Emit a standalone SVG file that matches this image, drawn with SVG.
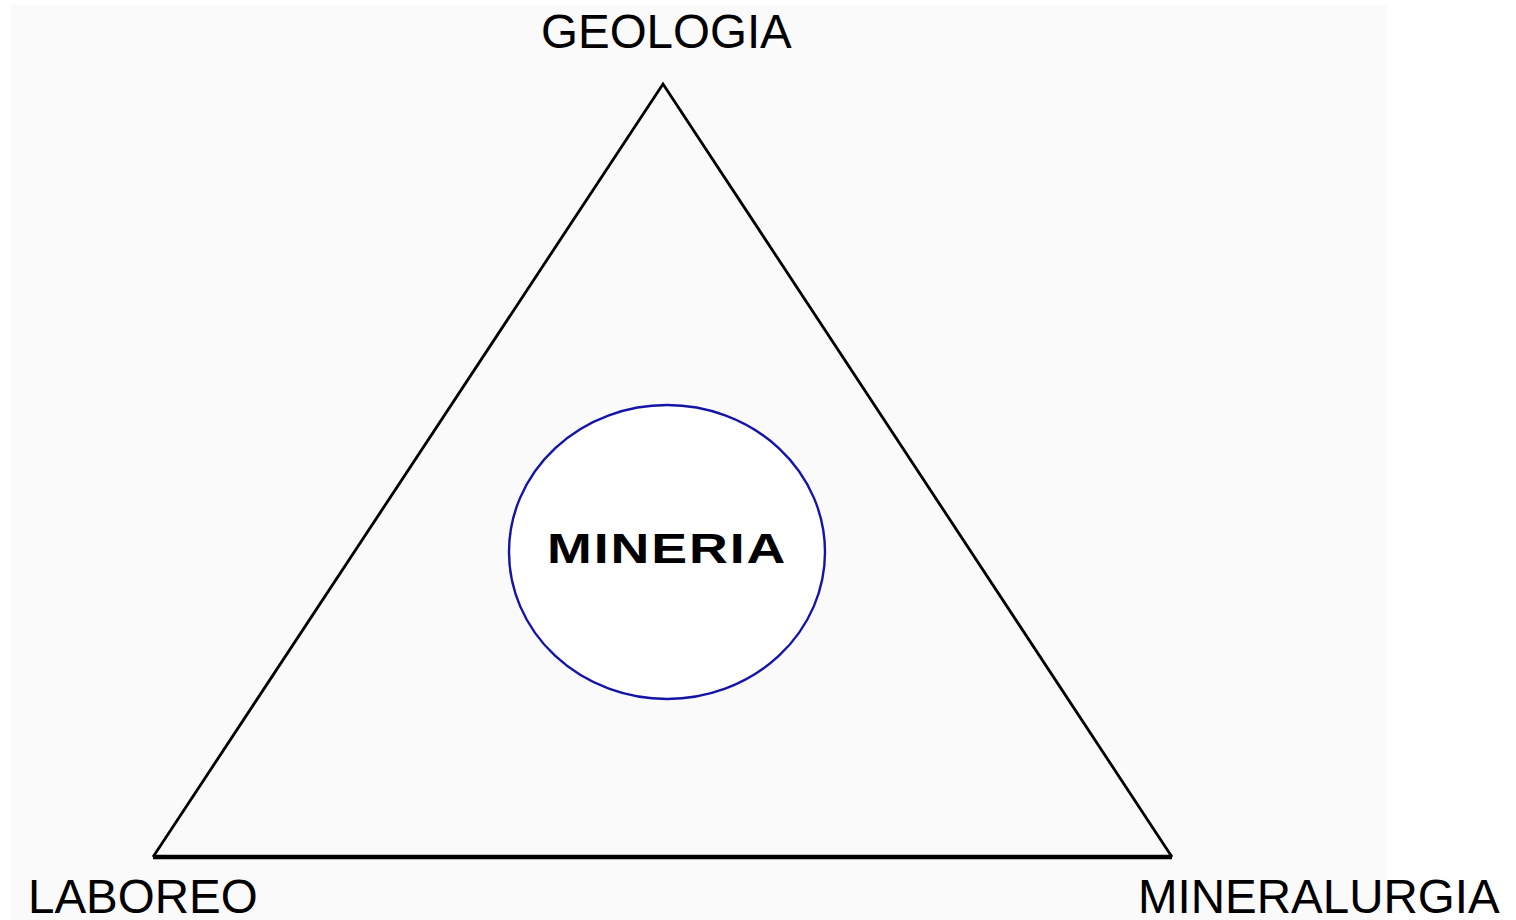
<svg xmlns="http://www.w3.org/2000/svg" width="1516" height="920" viewBox="0 0 1516 920">
<style>
.lbl{font-family:"Liberation Sans",Arial,sans-serif;font-size:47.5px;fill:#000}
.center{font-family:"Liberation Sans",Arial,sans-serif;font-size:42px;font-weight:bold;fill:#000;letter-spacing:1.5px}
</style>
<rect x="0" y="0" width="1516" height="920" fill="#ffffff"/>
<rect x="10" y="5" width="1377" height="915" fill="#fafafa"/>
<g id="connectors">
<path d="M153,857 L663,84 L1172,857" fill="none" stroke="#000" stroke-width="2.8" stroke-linejoin="miter"/>
<line x1="153" y1="857" x2="1172" y2="857" stroke="#000" stroke-width="4.5"/>
</g>
<g id="mineria">
<ellipse cx="667" cy="552" rx="158" ry="147" fill="#ffffff" stroke="#1414a8" stroke-width="2.4"/>
<text class="center" transform="translate(547,563) scale(1.28,1)" x="0" y="0">MINERIA</text>
</g>
<g id="geologia"><text class="lbl" x="541" y="48">GEOLOGIA</text></g>
<g id="laboreo"><text class="lbl" x="28" y="913">LABOREO</text></g>
<g id="mineralurgia"><text class="lbl" x="1138" y="913">MINERALURGIA</text></g>
</svg>
